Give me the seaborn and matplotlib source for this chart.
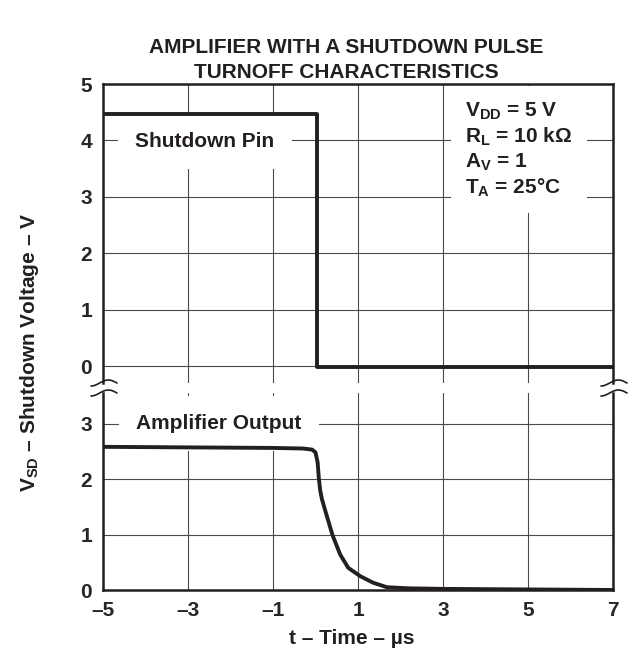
"""
Curva de apagado del amplificador con pulso de shutdown.
Genera out.png (629x656).
"""

import numpy as np
import matplotlib
matplotlib.use('Agg')
import matplotlib.pyplot as plt
import seaborn as sns
from matplotlib.lines import Line2D

# ── Datos ────────────────────────────────────────────────────────────────────
pin_t = [-5, 0.04, 0.04, 7]
pin_v = [4.46, 4.46, -0.02, -0.02]

amp_t = [-5, -3, -1, -0.3, -0.08, 0.0, 0.05, 0.08, 0.11, 0.15, 0.26, 0.40,
         0.58, 0.77, 1.05, 1.36, 1.68, 2.2, 3, 5, 7]
amp_v = [2.58, 2.57, 2.56, 2.55, 2.53, 2.48, 2.3, 2.0, 1.8, 1.64, 1.35, 0.99,
         0.64, 0.40, 0.25, 0.13, 0.05, 0.03, 0.02, 0.01, 0.0]

x_ticks = [-5, -3, -1, 1, 3, 5, 7]
x_labels = ['–5', '–3', '–1', '1', '3', '5', '7']
top_yticks = [0, 1, 2, 3, 4, 5]
bot_yticks = [0, 1, 2, 3]

INK = '#231f20'
GRID = '#4a4a4a'
W, H = 629, 656

sns.set_style('white')
plt.rcParams['font.family'] = ['Liberation Sans', 'DejaVu Sans']
plt.rcParams['font.weight'] = 'bold'
plt.rcParams['mathtext.fontset'] = 'custom'
plt.rcParams['mathtext.rm'] = 'Liberation Sans:bold'
plt.rcParams['mathtext.bf'] = 'Liberation Sans:bold'
plt.rcParams['mathtext.it'] = 'Liberation Sans:bold'
plt.rcParams['mathtext.default'] = 'rm'

FS = 15

fig = plt.figure(figsize=(W / 100, H / 100), dpi=100)


def px_box(left, top, right, bottom):
    return [left / W, 1 - bottom / H, (right - left) / W, (bottom - top) / H]


ax_top = fig.add_axes(px_box(103, 84, 613, 383))
ax_bot = fig.add_axes(px_box(103, 393, 613, 590))

sns.lineplot(x=pin_t, y=pin_v, ax=ax_top, color=INK, lw=2.8,
             sort=False, estimator=None, zorder=5)
sns.lineplot(x=amp_t, y=amp_v, ax=ax_bot, color=INK, lw=2.8,
             sort=False, estimator=None, zorder=5)

ax_top.set_ylim(-0.30, 5)
ax_bot.set_ylim(0, 3.55)
for ax in (ax_top, ax_bot):
    ax.set_xlim(-5, 7)
    ax.set_xticks(x_ticks)
    ax.grid(True, color=GRID, lw=0.8)
    ax.set_axisbelow(True)
    ax.tick_params(length=0, pad=8, labelsize=FS)
    for s in ax.spines.values():
        s.set_color(INK)
        s.set_linewidth(1.8)
    ax.set_xlabel('')
    ax.set_ylabel('')

ax_top.spines['bottom'].set_visible(False)
ax_bot.spines['top'].set_visible(False)
ax_top.set_yticks(top_yticks)
ax_bot.set_yticks(bot_yticks)
ax_top.tick_params(labelbottom=False)
ax_bot.set_xticklabels(x_labels)

# ── Etiquetas dentro del gráfico ─────────────────────────────────────────────
white = dict(boxstyle='square,pad=0.85', fc='white', ec='none')
ax_top.text(-2.6, 3.98, 'Shutdown Pin', ha='center', va='center',
            fontsize=FS, fontweight='bold', color=INK, bbox=white, zorder=3)
ax_bot.text(-2.27, 3, 'Amplifier Output', ha='center', va='center',
            fontsize=FS, fontweight='bold', color=INK, bbox=white, zorder=3)

params = ('V$_{DD}$ = 5 V\n'
          'R$_{L}$ = 10 kΩ\n'
          'A$_{V}$ = 1\n'
          'T$_{A}$ = 25°C')
ax_top.text(0.71, 0.945, params, transform=ax_top.transAxes, ha='left',
            va='top', fontsize=FS, color=INK, linespacing=1.22,
            bbox=dict(boxstyle='square,pad=0.7', fc='white', ec='none'),
            zorder=3)

# ── Marcas de corte del eje ──────────────────────────────────────────────────
s = np.linspace(0, 1, 40)
for xs in (103, 613):
    for ys in (383, 393):
        xp = xs - 12 + 26 * s
        yp = ys - 3 * np.sin(-np.pi / 2 + 1.5 * np.pi * s)
        fig.add_artist(Line2D(xp / W, 1 - yp / H, color=INK, lw=1.2))

# ── Títulos ──────────────────────────────────────────────────────────────────
fig.text(346 / W, 1 - 60 / H,
         'AMPLIFIER WITH A SHUTDOWN PULSE\nTURNOFF CHARACTERISTICS',
         ha='center', va='center', fontsize=FS, fontweight='bold',
         color=INK, linespacing=1.45)
fig.text(352 / W, 1 - 639 / H, 't – Time – µs', ha='center', va='center',
         fontsize=FS, fontweight='bold', color=INK)
fig.text(30 / W, 1 - 352 / H, 'V$_{SD}$ – Shutdown Voltage – V',
         ha='center', va='center', rotation=90, fontsize=FS,
         fontweight='bold', color=INK)

fig.savefig('out.png', dpi=100)
plt.close(fig)
